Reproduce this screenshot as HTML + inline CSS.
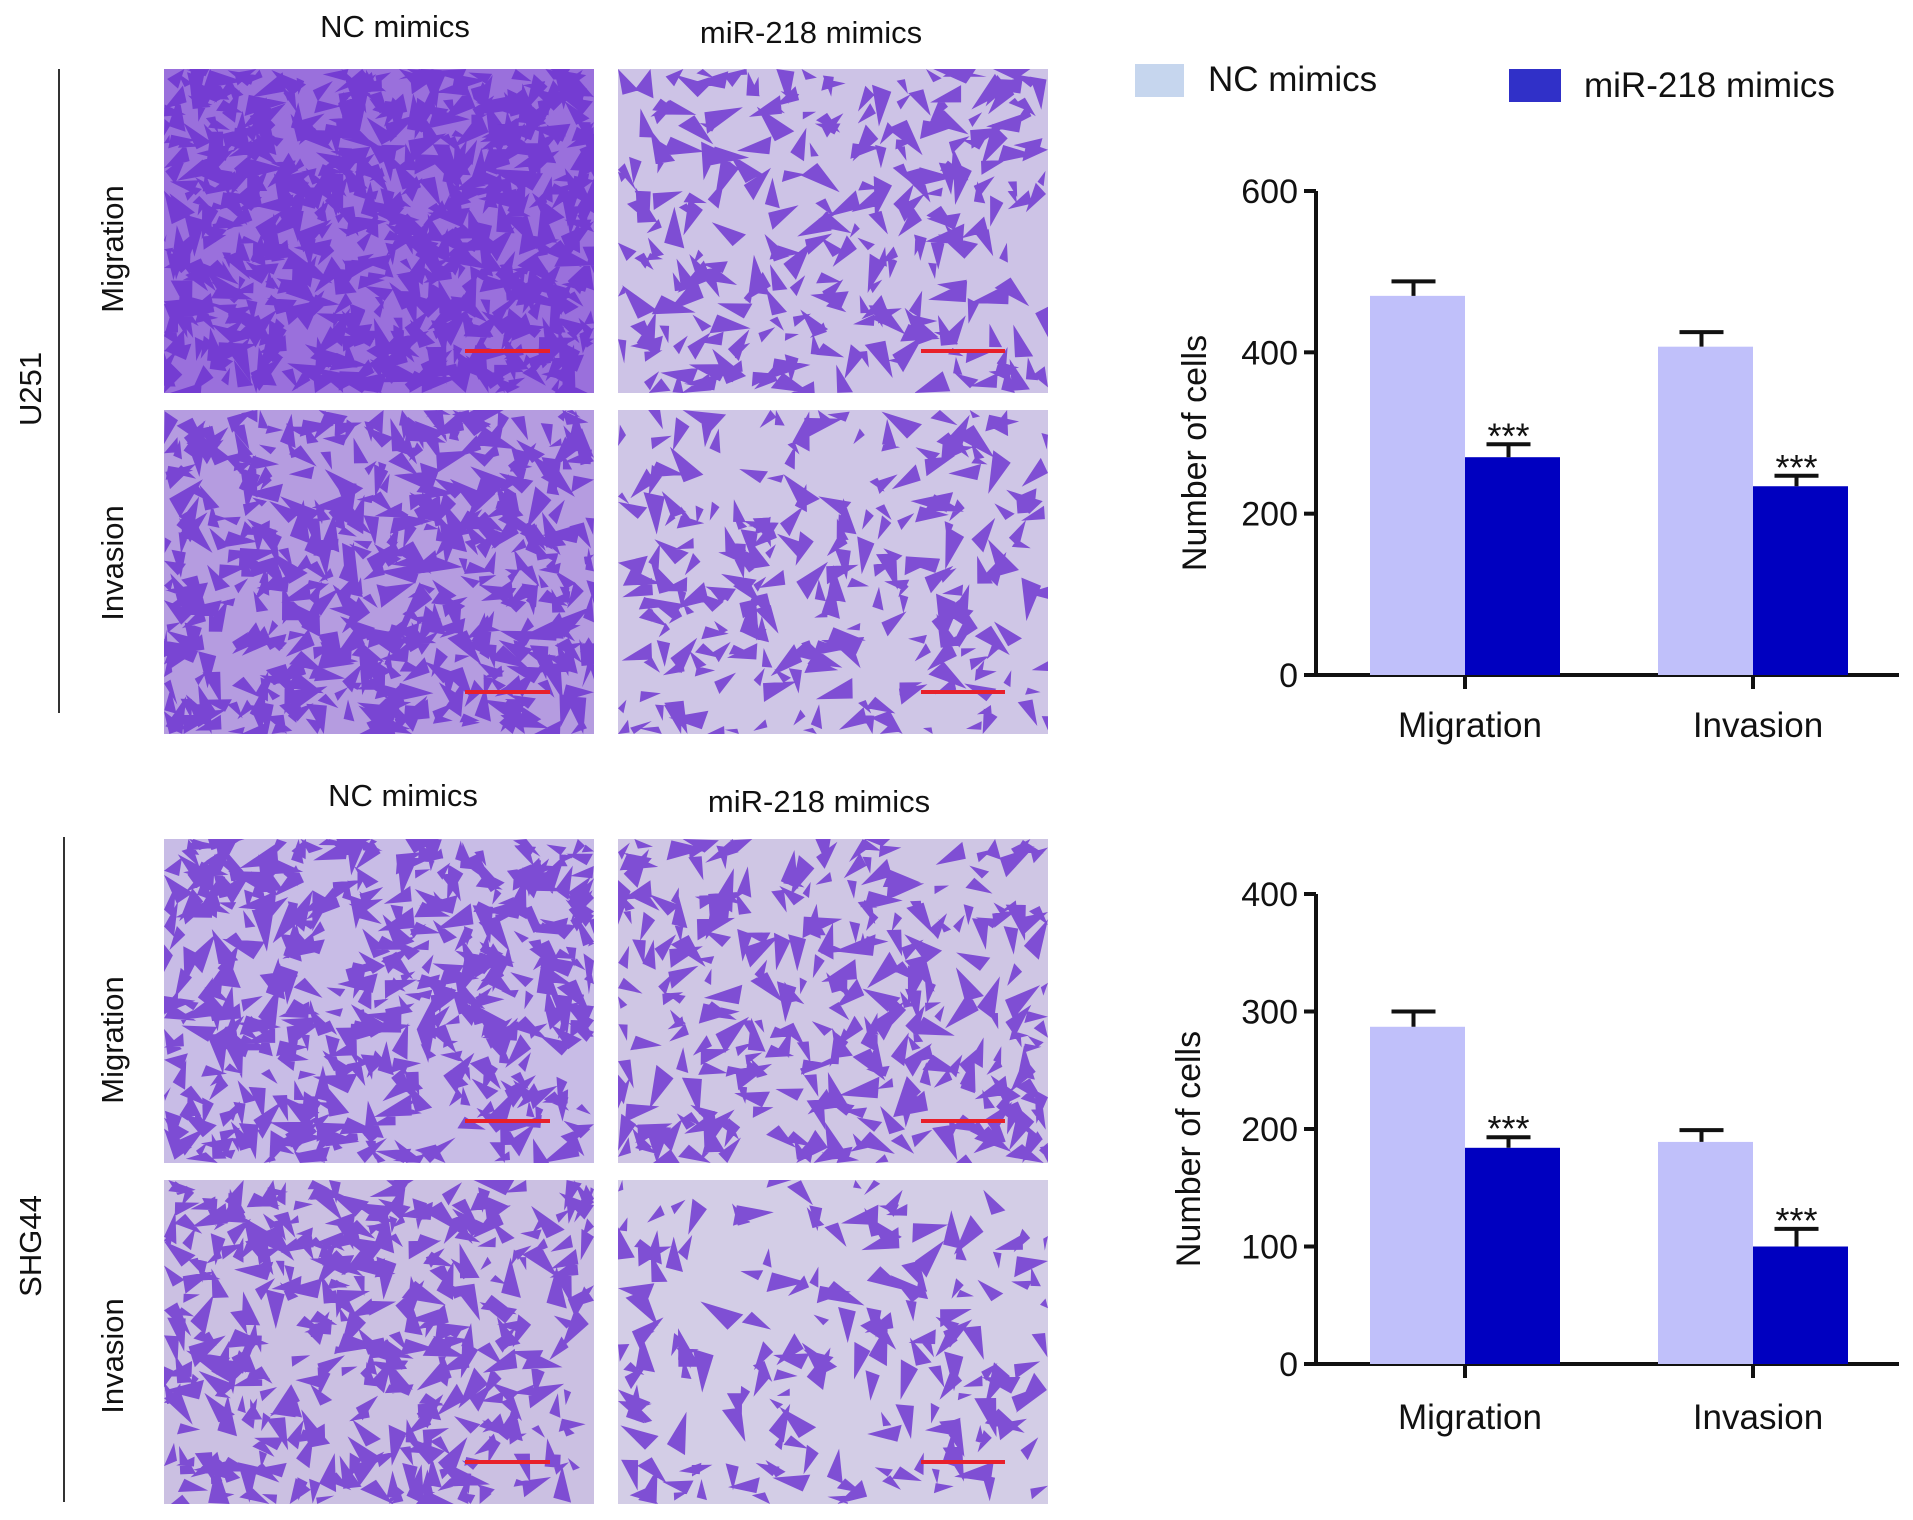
<!DOCTYPE html>
<html><head><meta charset="utf-8"><style>
body{margin:0;background:#fff;width:1913px;height:1520px;overflow:hidden;font-family:"Liberation Sans",sans-serif}
svg{position:absolute;left:0;top:0}
</style></head><body>
<svg id="fig" width="1913" height="1520" viewBox="0 0 1913 1520">
<g id="photos"></g>
<g font-family="Liberation Sans, sans-serif" fill="#111">
<text x="395" y="37" font-size="31" text-anchor="middle">NC mimics</text>
<text x="811" y="43" font-size="31" text-anchor="middle">miR-218 mimics</text>
<text x="403" y="806" font-size="31" text-anchor="middle">NC mimics</text>
<text x="819" y="812" font-size="31" text-anchor="middle">miR-218 mimics</text>
<line x1="59" y1="69" x2="59" y2="713" stroke="#333" stroke-width="2"/>
<line x1="64" y1="837" x2="64" y2="1502" stroke="#333" stroke-width="2"/>
<text transform="translate(41,389) rotate(-90)" font-size="31" text-anchor="middle">U251</text>
<text transform="translate(41,1246) rotate(-90)" font-size="31" text-anchor="middle">SHG44</text>
<text transform="translate(123,249) rotate(-90)" font-size="31" text-anchor="middle">Migration</text>
<text transform="translate(123,563) rotate(-90)" font-size="31" text-anchor="middle">Invasion</text>
<text transform="translate(123,1040) rotate(-90)" font-size="31" text-anchor="middle">Migration</text>
<text transform="translate(123,1356) rotate(-90)" font-size="31" text-anchor="middle">Invasion</text>
</g>
<g>
<rect x="1135" y="64" width="49" height="33" fill="#c6d6ee"/>
<text x="1208" y="91" font-size="35" fill="#111">NC mimics</text>
<rect x="1509" y="69" width="52" height="33" fill="#3030c8"/>
<text x="1584" y="97" font-size="35" fill="#111">miR-218 mimics</text>
</g>
<g id="chart1"></g>
<g id="chart2"></g>
</svg>
<script>
const groups=["Migration","Invasion"];
const u251NC=[470,407], u251NCerr=[18,18];
const u251Mir=[270,234], u251MirErr=[16,13];
const u251Ticks=[0,200,400,600];
const shgNC=[287,189], shgNCerr=[13,10];
const shgMir=[184,100], shgMirErr=[9,15];
const shgTicks=[0,100,200,300,400];
const NS="http://www.w3.org/2000/svg";
function mk(p,tag,at){const e=document.createElementNS(NS,tag);for(const k in at)e.setAttribute(k,at[k]);p.appendChild(e);return e;}
function drawChart(g,cfg){
  const y=v=>cfg.y0-(v/cfg.max)*(cfg.y0-cfg.yTop);
  const ax=1316, xEnd=1899, gw=288, bw=95, gx0=1370;
  const yl=mk(g,'line',{x1:ax,y1:cfg.yTop,x2:ax,y2:cfg.y0+2,stroke:'#111','stroke-width':4});
  
  
  const xl=mk(g,'line',{x1:ax-12,y1:cfg.y0,x2:xEnd,y2:cfg.y0,stroke:'#111','stroke-width':4});
  
  
  cfg.ticks.forEach(t=>{
    const tl=mk(g,'line',{x1:ax-12,y1:y(t),x2:ax,y2:y(t),stroke:'#111','stroke-width':4});
    
    
    const tx=mk(g,'text',{x:ax-18,y:y(t)+12,'font-size':34,'text-anchor':'end',fill:'#111'});
    tx.textContent=t;
    
    
  });
  const tt=mk(g,'text',{transform:`translate(${cfg.titleX},${(cfg.y0+cfg.yTop)/2+20}) rotate(-90)`,'font-size':34,'text-anchor':'middle',fill:'#111'});
  tt.textContent='Number of cells';
  
  
  groups.forEach((gname,i)=>{
    const x0=gx0+i*gw;
    [[cfg.nc,cfg.ncE,'#c0c0fa',0],[cfg.mir,cfg.mirE,'#0000c0',1]].forEach(([vals,errs,col,s])=>{
      const bx=x0+s*bw, v=vals[i], e=errs[i];
      const r=mk(g,'rect',{x:bx,y:y(v),width:bw,height:cfg.y0-y(v),fill:col});
      
      
      const cx=bx+bw/2-4;
      const el=mk(g,'path',{d:`M${cx} ${y(v)} V${y(v+e)} M${cx-22} ${y(v+e)} H${cx+22}`,stroke:'#111','stroke-width':4,fill:'none'});
      
      
      if(s){
        const st=mk(g,'text',{x:cx,y:y(v+e)+4,'font-size':36,'text-anchor':'middle',fill:'#111'});
        st.textContent='***';
        
        
      }
    });
    const xt=mk(g,'line',{x1:x0+bw,y1:cfg.y0,x2:x0+bw,y2:cfg.y0+14,stroke:'#111','stroke-width':4});
    
    
    const lb=mk(g,'text',{x:x0+bw+5,y:cfg.labY,'font-size':35,'text-anchor':'middle',fill:'#111'});
    lb.textContent=gname;
    
    
  });
}
drawChart(document.getElementById('chart1'),{y0:675,yTop:191,max:600,ticks:u251Ticks,nc:u251NC,ncE:u251NCerr,mir:u251Mir,mirE:u251MirErr,labY:737,titleX:1206});
drawChart(document.getElementById('chart2'),{y0:1364,yTop:894,max:400,ticks:shgTicks,nc:shgNC,ncE:shgNCerr,mir:shgMir,mirE:shgMirErr,labY:1429,titleX:1200});

// micrograph textures (decorative)
let seed=7;function rnd(){seed=(seed*16807)%2147483647;return seed/2147483647;}
const ph=document.getElementById('photos');
const cols=[164,618], rows=[69,410,839,1180], W=430,H=324;
const dens=[[700,260],[520,240],[480,300],[380,170]];
const bgs=[["#9a70dc","#cdc3e6"],["#b59ce0","#cfc6e6"],["#c8bce6","#cfc6e4"],["#cbc0e2","#d3cde6"]];
rows.forEach((ry,ri)=>cols.forEach((cx,ci)=>{
  const g=mk(ph,'g',{});
  
  
  mk(g,'rect',{x:cx,y:ry,width:W,height:H,fill:bgs[ri][ci]});
  const n=dens[ri][ci];
  let d='';
  for(let k=0;k<n;k++){
    const x=cx+rnd()*W, yy=ry+rnd()*H, s=4+rnd()*8, a=rnd()*6.28;
    const p=[0,1,2].map(j=>{const r=j==0?s*3:s;const aa=a+j*2.3;return [Math.min(cx+W,Math.max(cx,x+r*Math.cos(aa))),Math.min(ry+H,Math.max(ry,yy+r*Math.sin(aa)))];});
    d+=`M${p[0][0].toFixed(1)} ${p[0][1].toFixed(1)}L${p[1][0].toFixed(1)} ${p[1][1].toFixed(1)}L${p[2][0].toFixed(1)} ${p[2][1].toFixed(1)}Z`;
  }
  mk(g,'path',{d:d,fill:'#6a2fd0','fill-opacity':0.8});
  const sb=mk(g,'line',{x1:cx+(ci?303:301),y1:ry+282,x2:cx+(ci?387:386),y2:ry+282,stroke:'#e8202a','stroke-width':4});
  
  
}));
</script>
</body></html>
